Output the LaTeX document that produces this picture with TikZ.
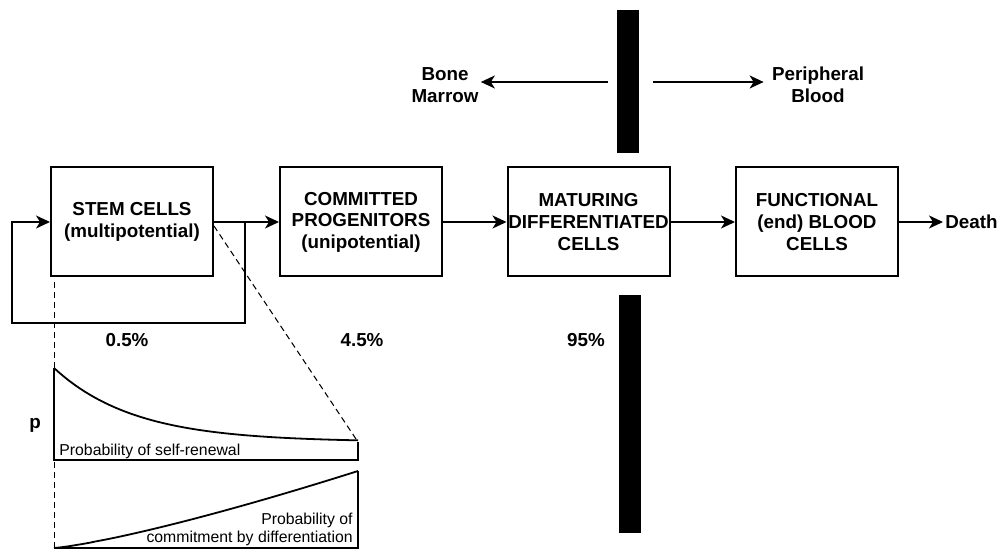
\documentclass[tikz,border=0pt]{standalone}
\usepackage{fontspec}
\setmainfont{Liberation Sans}
\usepackage{tikz}
\usetikzlibrary{arrows.meta, positioning, calc}

\begin{document}
\begin{tikzpicture}[x=0.5pt, y=-0.5pt,
    cellbox/.style={draw, line width=1pt, minimum width=81pt, minimum height=54.5pt,
      align=center, font=\bfseries\fontsize{9.4}{10.8}\selectfont, inner sep=0pt},
    flow/.style={line width=0.8pt, -{Stealth[length=7pt, width=6.5pt, inset=2pt]}},
    lbl/.style={font=\bfseries\fontsize{9.4}{11.2}\selectfont, align=center, inner sep=1pt},
    small/.style={font=\fontsize{7.9}{9}\selectfont, inner sep=1pt},
    zoomline/.style={dashed, line width=0.5pt, dash pattern=on 3pt off 2pt}]
    \useasboundingbox (0,0) rectangle (1000,550);
    % barrier
    \fill (617,10) rectangle (639,153);
    \fill (619,295) rectangle (641,533);
    % compartments
    \foreach \name/\xc/\txt in {stem/132/{STEM CELLS\\(multipotential)},
      prog/361/{COMMITTED\\PROGENITORS\\(unipotential)},
      mat/588.5/{MATURING\\DIFFERENTIATED\\CELLS},
      func/817/{FUNCTIONAL\\(end) BLOOD\\CELLS}} {
      \node[cellbox] (\name) at (\xc,222) {\txt};
    }
    \foreach \a/\b in {stem/prog, prog/mat, mat/func}
      \draw[flow] (\a) -- (\b);
    \node[lbl, anchor=west] (death) at (943,222) {Death};
    \draw[flow] (func) -- (death);
    % self-renewal loop
    \coordinate (split) at (245,222);
    \coordinate (loopR) at (245,323);
    \coordinate (loopL) at (12,323);
    \draw[flow] (split) -- (loopR) -- (loopL) |- (stem.west);
    \node[lbl] (pstem) at (127,340) {0.5\%};
    \node[lbl] (pprog) at (362,340) {4.5\%};
    \node[lbl] (pmat) at (586,340) {95\%};
    % location arrows
    \node[lbl] (bm) at (445,85) {Bone\\Marrow};
    \node[lbl] (pb) at (818,85) {Peripheral\\Blood};
    \coordinate (bmfrom) at (608,82);
    \coordinate (pbfrom) at (653,82);
    \draw[flow] (bmfrom) -- (bm.east |- bmfrom);
    \draw[flow] (pbfrom) -- ($(pb.west |- pbfrom)+(-6,0)$);
    % zoom lines
    \coordinate (zTL) at (54,282);
    \coordinate (zBL) at (54,548);
    \coordinate (srTR) at (358,442);
    \draw[zoomline] (zTL) -- (zBL);
    \draw[zoomline] ($(stem.east)+(0,4)$) -- (srTR);
    % self-renewal plot
    \draw[line width=0.9pt] (54,368) -- (54,460) -- (358,460) -- (srTR);
    \draw[line width=0.9pt] plot[domain=54:358, samples=60] (\x, {442-74*exp(-(\x-54)/80)});
    \node[small, anchor=west] (srlbl) at (57,451) {Probability of self-renewal};
    % commitment plot
    \draw[line width=0.9pt] (zBL) -- (358,548) -- (358,471);
    \draw[line width=0.9pt] plot[domain=54:358, samples=60] (\x, {548-77*((\x-54)/304)^1.25});
    \node[small, anchor=east, align=right] (cdlbl) at (355,529) {Probability of\\commitment by differentiation};
    \node[lbl] (plbl) at (35,425) {p};
  \end{tikzpicture}
\end{document}
